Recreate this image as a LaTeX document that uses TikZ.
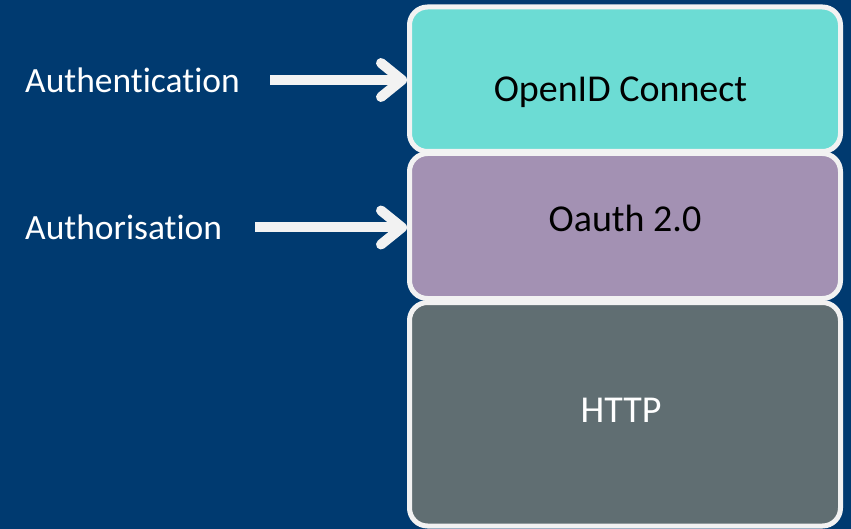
\documentclass[tikz,border=0pt]{standalone}
\usepackage{fontspec}
\setmainfont{Carlito}[RawFeature=-liga]
\usetikzlibrary{arrows.meta}
\definecolor{bgc}{RGB}{0,58,112}
\definecolor{tealc}{RGB}{108,220,212}
\definecolor{purc}{RGB}{163,145,179}
\definecolor{greyc}{RGB}{96,110,114}
\definecolor{rimc}{RGB}{242,242,242}
\begin{document}
\begin{tikzpicture}[x=1pt,y=-1pt,
  layer/.style={draw=rimc, line width=5pt, rounded corners=18pt, minimum width=431pt, inner sep=0pt, outer sep=0pt},
  lbl/.style={font=\fontsize{35.5}{40}\selectfont, text=white, anchor=base west, inner sep=0pt},
  boxtxt/.style={font=\fontsize{38}{44}\selectfont, anchor=base, inner sep=0pt},
  arr/.style={draw=rimc, line width=10pt, shorten >=2.5pt, -{Straight Barb[length=21pt,width=34pt,round]}}]
\fill[bgc] (0,0) rectangle (851,529);
\useasboundingbox (0,0) rectangle (851,529);
\node[layer, fill=tealc, minimum height=144.5pt] (oidc) at (625,79.25) {};
\node[layer, fill=purc, minimum height=145pt] (oauth) at (625,226) {};
\node[layer, fill=greyc, minimum height=223.5pt] (http) at (625,414.25) {};
\node[boxtxt] (t1) at (620.5,102) {OpenID Connect};
\node[boxtxt] (t2) at (625,232) {Oauth 2.0};
\node[boxtxt, text=white] (t3) at (621,422) {HTTP};
\node[lbl] (authn) at (25,93) {Authentication};
\node[lbl] (authz) at (25,240) {Authorisation};
\coordinate (a1s) at (270,80);
\coordinate (a2s) at (255,227.5);
\draw[arr] (a1s) -- (a1s -| oidc.west);
\draw[arr] (a2s) -- (a2s -| oauth.west);
\end{tikzpicture}
\end{document}
